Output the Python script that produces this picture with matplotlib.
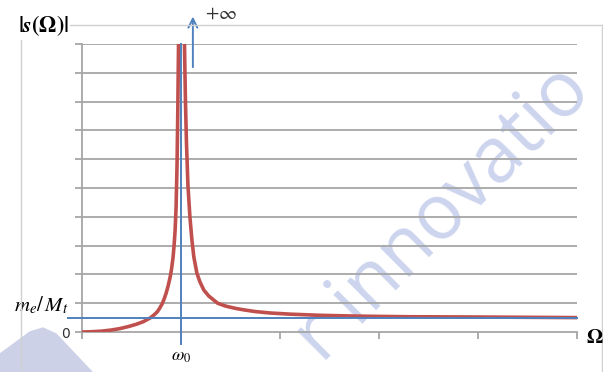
import matplotlib.pyplot as plt
from matplotlib.lines import Line2D
from matplotlib.patches import Polygon

plt.rcParams['mathtext.fontset'] = 'stix'

# values (grid step = 1, omega_0 = 1)
omega = [0, 0.1, 0.2, 0.3, 0.385, 0.47, 0.55, 0.62, 0.69, 0.73, 0.76, 0.78, 0.81,
         0.83, 0.85, 0.87, 0.89, 0.905, 0.92, 0.93, 0.94, 0.95, 0.96, 0.967, 0.975,
         1.0,
         1.035, 1.045, 1.055, 1.07, 1.09, 1.11, 1.13, 1.16, 1.19, 1.23, 1.28, 1.37,
         1.45, 1.55, 1.65, 1.75, 1.9, 2.1, 2.4, 2.8, 3.3, 4.0, 4.5, 5.0]
s_abs = [0, 0.01, 0.03, 0.07, 0.12, 0.19, 0.27, 0.36, 0.49, 0.6, 0.7, 0.8, 0.98,
         1.15, 1.35, 1.6, 1.9, 2.2, 2.6, 3.0, 3.5, 4.3, 5.8, 7.5, 10,
         30,
         10, 8.0, 6.6, 5.1, 4.0, 3.2, 2.6, 2.05, 1.75, 1.46, 1.25, 1.0,
         0.9, 0.82, 0.76, 0.71, 0.66, 0.62, 0.58, 0.55, 0.53, 0.52, 0.51, 0.5]
ratio = 0.5        # m_e/M_t level
omega0 = 1.0
x_ticks = [0, 1, 2, 3, 4, 5]
y_grid = [1, 2, 3, 4, 5, 6, 7, 8, 9, 10]

W, H = 603, 372
fig = plt.figure(figsize=(W / 100, H / 100), dpi=100)
ax = fig.add_axes([82 / W, 1 - 332 / H, (577 - 82) / W, (332 - 44) / H])

def fx(px):
    return px / W

def fy(py):
    return 1 - py / H

# watermark (behind the chart)
fig.patches.append(Polygon([(fx(0), fy(354)), (fx(30), fy(332)), (fx(43), fy(328)),
                            (fx(56), fy(334)), (fx(92), fy(372)), (fx(0), fy(372))],
                           closed=True, transform=fig.transFigure, color='#ccd1e8',
                           zorder=-1))
fig.text(fx(443), fy(214), 'r innovatio', rotation=45, fontsize=55, color='#cdd4ee',
         family='Open Sans', ha='center', va='center',
         rotation_mode='anchor', zorder=-1)

# chart frame
fig.add_artist(Line2D([fx(68), fx(603)], [fy(25), fy(25)], color='#d0d0d0', lw=1))
fig.add_artist(Line2D([fx(21), fx(21)], [fy(38), fy(372)], color='#d0d0d0', lw=1))
fig.add_artist(Line2D([fx(602), fx(602)], [fy(25), fy(372)], color='#d0d0d0', lw=1))

ax.set_facecolor('none')
ax.set_xlim(0, 5)
ax.set_ylim(0, 10)
for v in y_grid:
    ax.axhline(v, color='#a6a6a6', lw=1.3, zorder=1)
ax.plot(omega, s_abs, color='#c0504d', lw=2.6, zorder=3, solid_capstyle='butt',
        solid_joinstyle='round')

# blue helper lines
ax.plot([-0.14, 5], [ratio, ratio], color='#4f81bd', lw=1.4, zorder=4, clip_on=False)
ax.plot([omega0, omega0], [-0.4, 10], color='#4f81bd', lw=1.4, zorder=4, clip_on=False)
ax.annotate('', xy=(1.12, 11.05), xytext=(1.12, 9.1), annotation_clip=False,
            arrowprops=dict(arrowstyle='->', color='#4f81bd', lw=1.4,
                            mutation_scale=16))
ax.text(1.24, 11.05, r'$+\infty$', fontsize=14, ha='left', va='center', color='#333333')

for side in ['top', 'right']:
    ax.spines[side].set_visible(False)
for side in ['left', 'bottom']:
    ax.spines[side].set_color('#a6a6a6')
    ax.spines[side].set_linewidth(1.3)
ax.set_xticks(x_ticks)
ax.set_xticklabels([])
ax.set_yticks([0] + y_grid)
ax.set_yticklabels(['0'] + [''] * len(y_grid), fontsize=10, color='#333333')
ax.tick_params(axis='both', direction='out', length=5, width=1.3, color='#a6a6a6')
ax.tick_params(axis='y', pad=4)

ax.text(omega0, -0.85, r'$\omega_0$', fontsize=13, ha='center', va='center')
ax.text(-0.14, 0.94, r'$m_e/\,M_t$', fontsize=15, ha='right', va='center')
fig.text(fx(595), fy(337), r'$\mathbf{\Omega}$', fontsize=15, ha='center', va='center')
fig.text(fx(43), fy(26), r'$\mathbf{|}\mathbfit{s}\mathbf{(\Omega)|}$', fontsize=16,
         ha='center', va='center', bbox=dict(fc='white', ec='none', pad=1))

fig.savefig('out.png', dpi=100)
